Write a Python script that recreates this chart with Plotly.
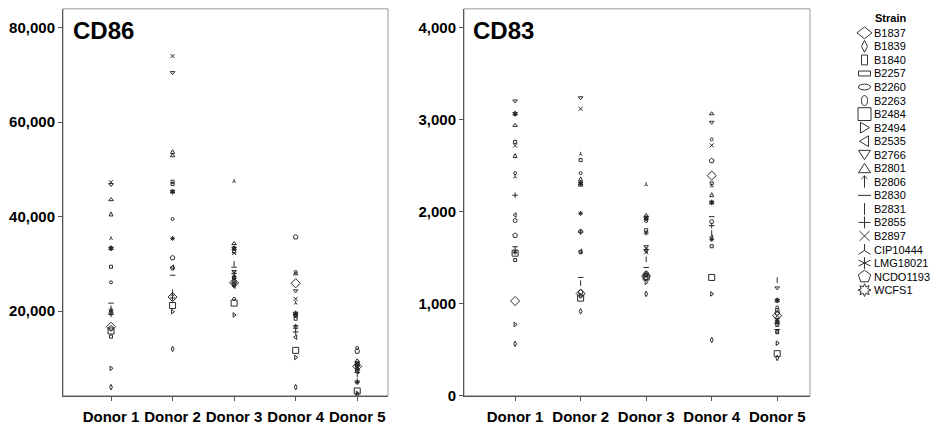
import math
import plotly.graph_objects as go

W, H = 930, 425

donors = ["Donor 1", "Donor 2", "Donor 3", "Donor 4", "Donor 5"]

strains = ["B1837", "B1839", "B1840", "B2257", "B2260", "B2263", "B2484",
           "B2494", "B2535", "B2766", "B2801", "B2806", "B2830", "B2831",
           "B2855", "B2897", "CIP10444", "LMG18021", "NCDO1193", "WCFS1"]

# CD86 MFI per donor, in the same order as `strains`
cd86_d1 = [16700, 3900, 29400, 14600, 19600, 26100, 15800, 7900, 19900, 46800,
           43600, 41000, 21700, 20600, 19300, 47300, 35400, 20200, 16400, 33300]
cd86_d2 = [23000, 12000, 47400, 46900, 29100, 39500, 21200, 19900, 29300, 70500,
           52900, 54200, 27600, 24000, 22800, 74000, 23500, 35400, 31300, 45300]
cd86_d3 = [26000, 25700, 32600, 27000, 26200, 22600, 21700, 19200, 25300, 28400,
           34300, 27700, 29300, 30000, 28000, 32300, 47500, 27300, 25900, 33300]
cd86_d4 = [25900, 3900, 18400, 19000, 19200, 28300, 11700, 10200, 14500, 24300,
           27900, 17200, 16900, 16700, 15600, 22600, 21700, 19600, 35700, 19400]
cd86_d5 = [8300, 2300, 8500, 7800, 7500, 12200, 3100, 2600, 7200, 9000,
           9500, 9200, 7000, 6600, 5200, 8000, 7700, 4900, 11500, 8700]

# CD83 MFI per donor, in the same order as `strains`
cd83_d1 = [1030, 564, 2760, 1475, 1905, 2420, 1550, 775, 1965, 3205,
           2940, 2633, 1620, 1590, 2180, 2720, 2380, 1560, 1743, 3066]
cd83_d2 = [1110, 918, 2562, 1560, 1786, 2420, 1061, 1090, 1570, 3240,
           2290, 2380, 1286, 1225, 1780, 3120, 2626, 1983, 1125, 2310]
cd83_d3 = [1300, 1107, 1800, 1280, 1310, 1900, 1290, 1233, 1575, 1620,
           1960, 1340, 1394, 1483, 1590, 1560, 2294, 1770, 1330, 1930]
cd83_d4 = [2394, 607, 2310, 1625, 1893, 2787, 1286, 1107, 1722, 2973,
           3066, 2208, 1947, 1769, 1850, 2723, 2280, 1700, 2555, 2101]
cd83_d5 = [870, 410, 770, 690, 930, 960, 457, 571, 700, 1172,
           850, 830, 720, 1257, 790, 800, 820, 810, 900, 1036]

cd86_ticks = [20000, 40000, 60000, 80000]
cd83_ticks = [0, 1000, 2000, 3000, 4000]

# plotly marker symbol and size used for each strain in the scatter panels
marker_style = {
    "B1837": ("diamond-open", 7), "B1839": ("diamond-tall-open", 4),
    "B1840": ("square-open", 3), "B2257": ("square-open", 3),
    "B2260": ("circle-open", 4), "B2263": ("circle-open", 3),
    "B2484": ("square-open", 6), "B2494": ("triangle-right-open", 4),
    "B2535": ("triangle-left-open", 4), "B2766": ("triangle-down-open", 4),
    "B2801": ("triangle-up-open", 4), "B2806": ("arrow-up-open", 4),
    "B2830": ("line-ew-open", 4), "B2831": ("line-ns-open", 4),
    "B2855": ("cross-thin-open", 4), "B2897": ("x-thin-open", 4),
    "CIP10444": ("y-up-open", 3), "LMG18021": ("asterisk-open", 4),
    "NCDO1193": ("pentagon-open", 5), "WCFS1": ("hexagram", 4),
}

INK = "#2a2a2a"
FONT = "Liberation Sans"

cd86 = [cd86_d1, cd86_d2, cd86_d3, cd86_d4, cd86_d5]
cd83 = [cd83_d1, cd83_d2, cd83_d3, cd83_d4, cd83_d5]

fig = go.Figure()

for i, s in enumerate(strains):
    sym, size = marker_style[s]
    for cols, xa, ya in ((cd86, "x", "y"), (cd83, "x2", "y2")):
        fig.add_trace(go.Scatter(
            x=donors, y=[col[i] for col in cols], xaxis=xa, yaxis=ya,
            mode="markers", name=s, showlegend=False, hoverinfo="x+y+name",
            marker=dict(symbol=sym, size=size, color=INK,
                        line=dict(color=INK, width=1)),
        ))

# panel geometry in pixels
left_px = (63, 388)
right_px = (464, 810)
top_px, bottom_px = 9, 403.3
ydom = [1 - bottom_px / H, 1 - top_px / H]

tickfont = dict(family=FONT, size=15, color="black", weight="bold")
xcommon = dict(type="category", range=[-0.78, 4.5], showline=True,
               linecolor="#555", linewidth=1, ticks="outside", ticklen=4,
               tickcolor="#555", tickfont=tickfont, showgrid=False,
               zeroline=False, fixedrange=True, ticklabelstandoff=3)
ycommon = dict(showline=True, linecolor="#555", linewidth=1, ticks="outside",
               ticklen=4, tickcolor="#555", tickfont=tickfont, showgrid=False,
               zeroline=False, tickformat=",d", fixedrange=True)

fig.update_layout(
    width=W, height=H, margin=dict(l=0, r=0, t=0, b=0),
    paper_bgcolor="white", plot_bgcolor="white",
    font=dict(family=FONT, color="black"),
    xaxis=dict(domain=[left_px[0] / W, left_px[1] / W], anchor="y", **xcommon),
    yaxis=dict(domain=ydom, anchor="x", range=[2100, 84000],
               tickvals=cd86_ticks, **ycommon),
    xaxis2=dict(domain=[right_px[0] / W, right_px[1] / W], anchor="y2", **xcommon),
    yaxis2=dict(domain=ydom, anchor="x2", range=[0, 4207],
                tickvals=cd83_ticks, **ycommon),
)

shapes = []
annotations = []

# light frame around each panel
for x0, x1 in (left_px, right_px):
    shapes.append(dict(type="rect", xref="paper", yref="paper",
                       x0=x0 / W, x1=x1 / W, y0=ydom[0], y1=ydom[1],
                       line=dict(color="#9a9a9a", width=1), layer="below"))

# panel titles
for x0, label in ((left_px[0] + 8, "CD86"), (right_px[0] + 7, "CD83")):
    annotations.append(dict(x=x0 / W, y=1 - 31.5 / H, xref="paper", yref="paper",
                            text=label, showarrow=False, xanchor="left",
                            yanchor="middle",
                            font=dict(family=FONT, size=24, color="black",
                                      weight="bold")))


# ---- strain key drawn to the right of the panels ----
def fx(x):
    return x / W


def fy(y):
    return 1 - y / H


def poly(pts):
    return "M" + "L".join(f"{fx(x):.5f},{fy(y):.5f}" for x, y in pts) + "Z"


def segs(pairs):
    out = ""
    for (xa, ya), (xb, yb) in pairs:
        out += f"M{fx(xa):.5f},{fy(ya):.5f}L{fx(xb):.5f},{fy(yb):.5f}"
    return out


def key_shape(name, cx, cy):
    base = dict(xref="paper", yref="paper", line=dict(color="#333", width=1),
                fillcolor="rgba(0,0,0,0)")
    if name == "B1837":
        return dict(type="path", path=poly([(cx - 7.5, cy), (cx, cy - 6), (cx + 7.5, cy), (cx, cy + 6)]), **base)
    if name == "B1839":
        return dict(type="path", path=poly([(cx - 3, cy), (cx, cy - 6), (cx + 3, cy), (cx, cy + 6)]), **base)
    if name == "B1840":
        return dict(type="rect", x0=fx(cx - 3), x1=fx(cx + 3), y0=fy(cy + 5), y1=fy(cy - 5), **base)
    if name == "B2257":
        return dict(type="rect", x0=fx(cx - 6), x1=fx(cx + 6), y0=fy(cy + 2.5), y1=fy(cy - 2.5), **base)
    if name == "B2260":
        return dict(type="circle", x0=fx(cx - 6), x1=fx(cx + 6), y0=fy(cy + 3), y1=fy(cy - 3), **base)
    if name == "B2263":
        return dict(type="circle", x0=fx(cx - 3), x1=fx(cx + 3), y0=fy(cy + 5), y1=fy(cy - 5), **base)
    if name == "B2484":
        return dict(type="rect", x0=fx(cx - 6.5), x1=fx(cx + 6.5), y0=fy(cy + 6.5), y1=fy(cy - 6.5), **base)
    if name == "B2494":
        return dict(type="path", path=poly([(cx - 4, cy - 5.5), (cx + 5, cy), (cx - 4, cy + 5.5)]), **base)
    if name == "B2535":
        return dict(type="path", path=poly([(cx + 4, cy - 5.5), (cx - 5, cy), (cx + 4, cy + 5.5)]), **base)
    if name == "B2766":
        return dict(type="path", path=poly([(cx - 6, cy - 4.5), (cx + 6, cy - 4.5), (cx, cy + 5)]), **base)
    if name == "B2801":
        return dict(type="path", path=poly([(cx - 6, cy + 4.5), (cx + 6, cy + 4.5), (cx, cy - 5)]), **base)
    if name == "B2806":
        return dict(type="path", path=segs([((cx, cy - 6), (cx, cy + 6)), ((cx - 3, cy - 3), (cx, cy - 6)),
                                            ((cx + 3, cy - 3), (cx, cy - 6))]), **base)
    if name == "B2830":
        return dict(type="path", path=segs([((cx - 6.5, cy), (cx + 6.5, cy))]), **base)
    if name == "B2831":
        return dict(type="path", path=segs([((cx, cy - 6), (cx, cy + 6))]), **base)
    if name == "B2855":
        return dict(type="path", path=segs([((cx - 6, cy), (cx + 6, cy)), ((cx, cy - 6), (cx, cy + 6))]), **base)
    if name == "B2897":
        return dict(type="path", path=segs([((cx - 5, cy - 5), (cx + 5, cy + 5)), ((cx - 5, cy + 5), (cx + 5, cy - 5))]), **base)
    if name == "CIP10444":
        return dict(type="path", path=segs([((cx, cy - 5.5), (cx, cy + 1)), ((cx, cy + 1), (cx - 6, cy + 5)),
                                            ((cx, cy + 1), (cx + 6, cy + 5))]), **base)
    if name == "LMG18021":
        return dict(type="path", path=segs([((cx, cy - 6), (cx, cy + 6)), ((cx - 6, cy - 3), (cx + 6, cy + 3)),
                                            ((cx - 6, cy + 3), (cx + 6, cy - 3))]), **base)
    if name == "NCDO1193":
        pts = [(cx + 6.5 * math.sin(2 * math.pi * k / 5), cy - 6.5 * math.cos(2 * math.pi * k / 5)) for k in range(5)]
        return dict(type="path", path=poly(pts), **base)
    # WCFS1: small sun-like star
    pts = []
    for k in range(16):
        r = 6.5 if k % 2 == 0 else 3.5
        a = 2 * math.pi * k / 16
        pts.append((cx + r * math.sin(a), cy - r * math.cos(a)))
    return dict(type="path", path=poly(pts), **base)


key_x, key_y0, key_dy = 864.5, 33.5, 13.8
annotations.append(dict(x=fx(890), y=fy(18), xref="paper", yref="paper",
                        text="Strain", showarrow=False, xanchor="center",
                        yanchor="middle",
                        font=dict(family=FONT, size=11, color="black",
                                  weight="bold")))
for i, s in enumerate(strains):
    cy = key_y0 + i * key_dy
    shapes.append(key_shape(s, key_x, cy))
    annotations.append(dict(x=fx(key_x + 7), y=fy(cy), xref="paper",
                            yref="paper", text=s, showarrow=False,
                            xanchor="left", yanchor="middle",
                            font=dict(family=FONT, size=11, color="black")))

fig.update_layout(shapes=shapes, annotations=annotations)

fig.write_html("out.html")
